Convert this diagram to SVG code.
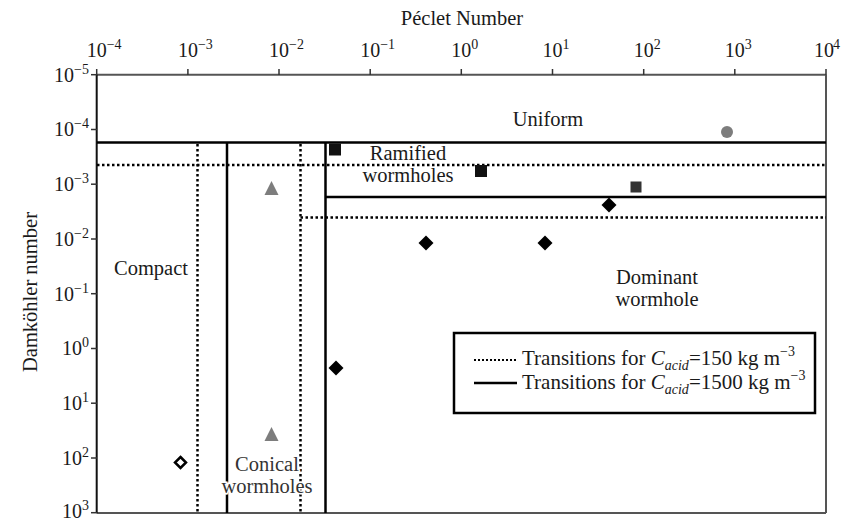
<svg xmlns="http://www.w3.org/2000/svg" width="841" height="520" viewBox="0 0 841 520">
<style>
text{font-family:"Liberation Serif","Times New Roman",serif;fill:#1a1a1a}
.lbl{font-size:20.5px;text-anchor:middle}
.tk{font-size:20px}
.sup{font-size:14px}
.frame{stroke:#555;stroke-width:2;fill:none}
.solid{stroke:#000;stroke-width:2.5;fill:none}
.dot{stroke:#000;stroke-width:2.5;fill:none;stroke-dasharray:2.5 2.5}
.tick{stroke:#333;stroke-width:1.5}
.dia{fill:#000}
.sq{fill:#111}
.tri{fill:#7d7d7d}
.halo{stroke:#fff;stroke-width:3;paint-order:stroke;fill:#333}
</style>
<rect width="841" height="520" fill="#fff"/>

<g id="axes">
  <line class="frame" x1="96.7" y1="74.7" x2="826" y2="74.7"/>
  <line class="frame" x1="826" y1="74.7" x2="826" y2="513"/>
  <line class="frame" x1="96.7" y1="513" x2="826" y2="513"/>
  <line x1="96.7" y1="74.7" x2="96.7" y2="513" stroke="#111" stroke-width="2"/>
  <g class="tick">
    <line x1="96.7" y1="69" x2="96.7" y2="75"/><line x1="187.9" y1="69" x2="187.9" y2="75"/><line x1="279" y1="69" x2="279" y2="75"/><line x1="370.2" y1="69" x2="370.2" y2="75"/><line x1="461.3" y1="69" x2="461.3" y2="75"/><line x1="552.5" y1="69" x2="552.5" y2="75"/><line x1="643.7" y1="69" x2="643.7" y2="75"/><line x1="734.8" y1="69" x2="734.8" y2="75"/><line x1="826" y1="69" x2="826" y2="75"/>
    <line x1="91" y1="74.7" x2="97" y2="74.7"/><line x1="91" y1="129.5" x2="97" y2="129.5"/><line x1="91" y1="184.2" x2="97" y2="184.2"/><line x1="91" y1="239" x2="97" y2="239"/><line x1="91" y1="293.7" x2="97" y2="293.7"/><line x1="91" y1="348.5" x2="97" y2="348.5"/><line x1="91" y1="403.2" x2="97" y2="403.2"/><line x1="91" y1="458" x2="97" y2="458"/><line x1="91" y1="512.7" x2="97" y2="512.7"/>
  </g>
  <text class="lbl" x="462" y="25">Péclet Number</text>
  <text class="lbl" transform="translate(37,292) rotate(-90)">Damköhler number</text>
  <g class="tk" text-anchor="middle">
    <text x="96.7" y="57">10</text><text x="187.9" y="57">10</text><text x="279" y="57">10</text><text x="370.2" y="57">10</text><text x="461.3" y="57">10</text><text x="552.5" y="57">10</text><text x="643.7" y="57">10</text><text x="734.8" y="57">10</text><text x="824" y="57">10</text>
  </g>
  <g class="sup">
    <text x="106.7" y="49">−4</text><text x="197.9" y="49">−3</text><text x="289" y="49">−2</text><text x="380.2" y="49">−1</text><text x="471.3" y="49">0</text><text x="562.5" y="49">1</text><text x="653.7" y="49">2</text><text x="744.8" y="49">3</text><text x="833" y="49">4</text>
  </g>
  <g class="tk" text-anchor="end">
    <text x="89" y="81.5">10<tspan class="sup" dy="-8">−5</tspan></text>
    <text x="89" y="136.3">10<tspan class="sup" dy="-8">−4</tspan></text>
    <text x="89" y="191">10<tspan class="sup" dy="-8">−3</tspan></text>
    <text x="89" y="245.8">10<tspan class="sup" dy="-8">−2</tspan></text>
    <text x="89" y="300.5">10<tspan class="sup" dy="-8">−1</tspan></text>
    <text x="89" y="355.3">10<tspan class="sup" dy="-8">0</tspan></text>
    <text x="89" y="410">10<tspan class="sup" dy="-8">1</tspan></text>
    <text x="89" y="464.8">10<tspan class="sup" dy="-8">2</tspan></text>
    <text x="89" y="517.5">10<tspan class="sup" dy="-8">3</tspan></text>
  </g>
</g>

<g id="connectors">
  <line class="solid" x1="97" y1="142.5" x2="826" y2="142.5"/>
  <line class="dot" x1="97" y1="165" x2="826" y2="165"/>
  <line class="solid" x1="325.5" y1="197" x2="826" y2="197"/>
  <line class="dot" x1="300.5" y1="217.5" x2="826" y2="217.5"/>
  <line class="dot" x1="197.5" y1="144" x2="197.5" y2="513"/>
  <line class="solid" x1="227" y1="142.5" x2="227" y2="513"/>
  <line class="dot" x1="300.5" y1="144" x2="300.5" y2="513"/>
  <line class="solid" x1="325.5" y1="142.5" x2="325.5" y2="513"/>
</g>

<g id="label-uniform"><text class="lbl" x="548" y="126">Uniform</text></g>
<g id="label-ramified"><text class="lbl" x="408" y="160">Ramified</text><text class="lbl" x="408" y="182">wormholes</text></g>
<g id="label-compact"><text class="lbl" x="151" y="275">Compact</text></g>
<g id="label-dominant"><text class="lbl" x="657" y="284">Dominant</text><text class="lbl" x="657" y="306">wormhole</text></g>
<g id="label-conical"><text class="lbl halo" x="267" y="471">Conical</text><text class="lbl halo" x="267" y="493">wormholes</text></g>

<g id="data-points">
  <circle cx="727" cy="132" r="6" fill="#7d7d7d"/>
  <rect class="sq" x="329" y="143.5" width="12" height="12"/>
  <rect class="sq" x="475" y="165" width="12" height="12"/>
  <rect x="630.5" y="181.5" width="11" height="11" fill="#333"/>
  <polygon class="tri" points="271.5,181 278.5,195 264.5,195"/>
  <polygon class="tri" points="271.5,427 278.5,441 264.5,441"/>
  <polygon class="dia" points="609,197.5 616.5,205 609,212.5 601.5,205"/>
  <polygon class="dia" points="426,235.5 433.5,243 426,250.5 418.5,243"/>
  <polygon class="dia" points="545,235.5 552.5,243 545,250.5 537.5,243"/>
  <polygon class="dia" points="336,360.5 343.5,368 336,375.5 328.5,368"/>
  <polygon points="180.5,457 186,462.5 180.5,468 175,462.5" fill="#fff" stroke="#000" stroke-width="2.5"/>
</g>

<g id="legend">
  <rect x="454" y="333" width="361" height="80" fill="#fff" stroke="#000" stroke-width="2.5"/>
  <line class="dot" x1="474" y1="360" x2="517" y2="360" style="stroke-width:2;stroke-dasharray:2 2"/>
  <text x="522" y="365" style="font-size:21px">Transitions for <tspan font-style="italic">C</tspan><tspan font-style="italic" style="font-size:14px" dy="5">acid</tspan><tspan dy="-5">=150 kg m</tspan><tspan style="font-size:14px" dy="-9">−3</tspan></text>
  <line class="solid" x1="474" y1="383" x2="517" y2="383"/>
  <text x="522" y="389" style="font-size:21px">Transitions for <tspan font-style="italic">C</tspan><tspan font-style="italic" style="font-size:14px" dy="5">acid</tspan><tspan dy="-5">=1500 kg m</tspan><tspan style="font-size:14px" dy="-9">−3</tspan></text>
</g>
</svg>
